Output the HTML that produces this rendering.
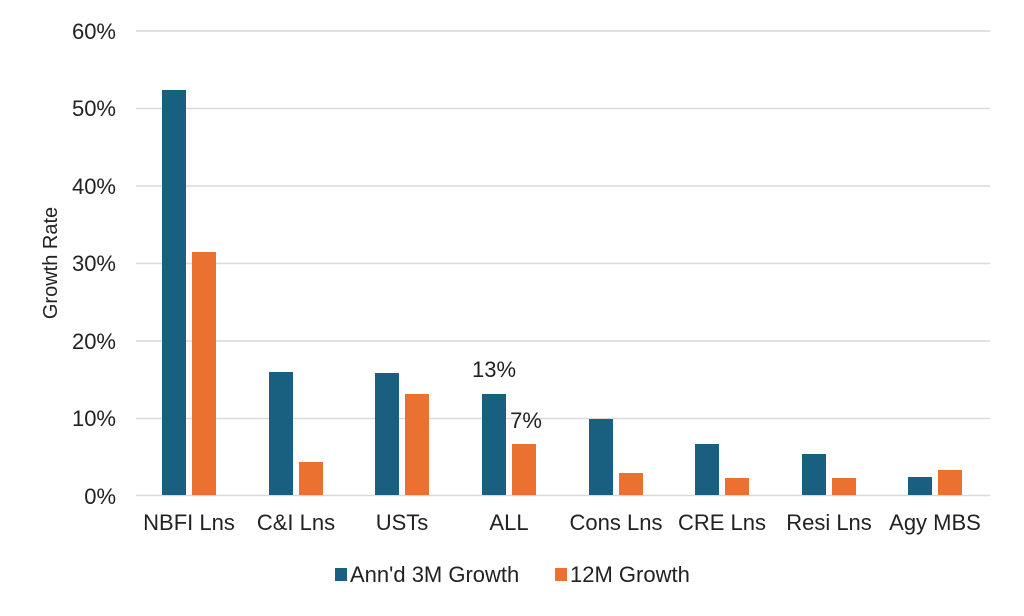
<!DOCTYPE html>
<html><head><style>body{margin:0;background:#fff}svg{display:block}text{font-family:"Liberation Sans",Arial,sans-serif;fill:#222}</style></head><body>
<svg width="1024" height="616" xmlns="http://www.w3.org/2000/svg">
<g stroke="#d9d9d9" stroke-width="1.5">
<line x1="136" x2="990" y1="31" y2="31"/><line x1="136" x2="990" y1="108.5" y2="108.5"/><line x1="136" x2="990" y1="186" y2="186"/><line x1="136" x2="990" y1="263.5" y2="263.5"/><line x1="136" x2="990" y1="341" y2="341"/><line x1="136" x2="990" y1="418.5" y2="418.5"/><line x1="136" x2="990" y1="495.5" y2="495.5"/>
</g>
<g font-size="22" text-anchor="end">
<text x="116" y="39">60%</text><text x="116" y="116">50%</text><text x="116" y="194">40%</text><text x="116" y="271">30%</text><text x="116" y="349">20%</text><text x="116" y="426">10%</text><text x="116" y="504">0%</text>
</g>
<text font-size="20" transform="translate(57,263) rotate(-90)" text-anchor="middle">Growth Rate</text>
<g fill="#185f80">
<rect x="162" y="90" width="24" height="405"/><rect x="269" y="372" width="24" height="123"/><rect x="375" y="373" width="24" height="122"/><rect x="482" y="394" width="24" height="101"/><rect x="589" y="419" width="24" height="76"/><rect x="695" y="444" width="24" height="51"/><rect x="802" y="454" width="24" height="41"/><rect x="908" y="477" width="24" height="18"/>
</g>
<g fill="#eb7131">
<rect x="192" y="252" width="24" height="243"/><rect x="299" y="462" width="24" height="33"/><rect x="405" y="394" width="24" height="101"/><rect x="512" y="444" width="24" height="51"/><rect x="619" y="473" width="24" height="22"/><rect x="725" y="478" width="24" height="17"/><rect x="832" y="478" width="24" height="17"/><rect x="938" y="470" width="24" height="25"/>
</g>
<text x="494" y="377" font-size="22" text-anchor="middle">13%</text>
<text x="526" y="428" font-size="22" text-anchor="middle">7%</text>
<g font-size="22" text-anchor="middle">
<text x="189" y="530">NBFI Lns</text><text x="296" y="530">C&amp;I Lns</text><text x="402" y="530">USTs</text><text x="509" y="530">ALL</text><text x="616" y="530">Cons Lns</text><text x="722" y="530">CRE Lns</text><text x="829" y="530">Resi Lns</text><text x="935" y="530">Agy MBS</text>
</g>
<rect x="335" y="568" width="12" height="13" fill="#185f80"/>
<text x="350" y="582" font-size="22">Ann'd 3M Growth</text>
<rect x="555" y="568" width="12" height="13" fill="#eb7131"/>
<text x="570" y="582" font-size="22">12M Growth</text>
</svg>
</body></html>
